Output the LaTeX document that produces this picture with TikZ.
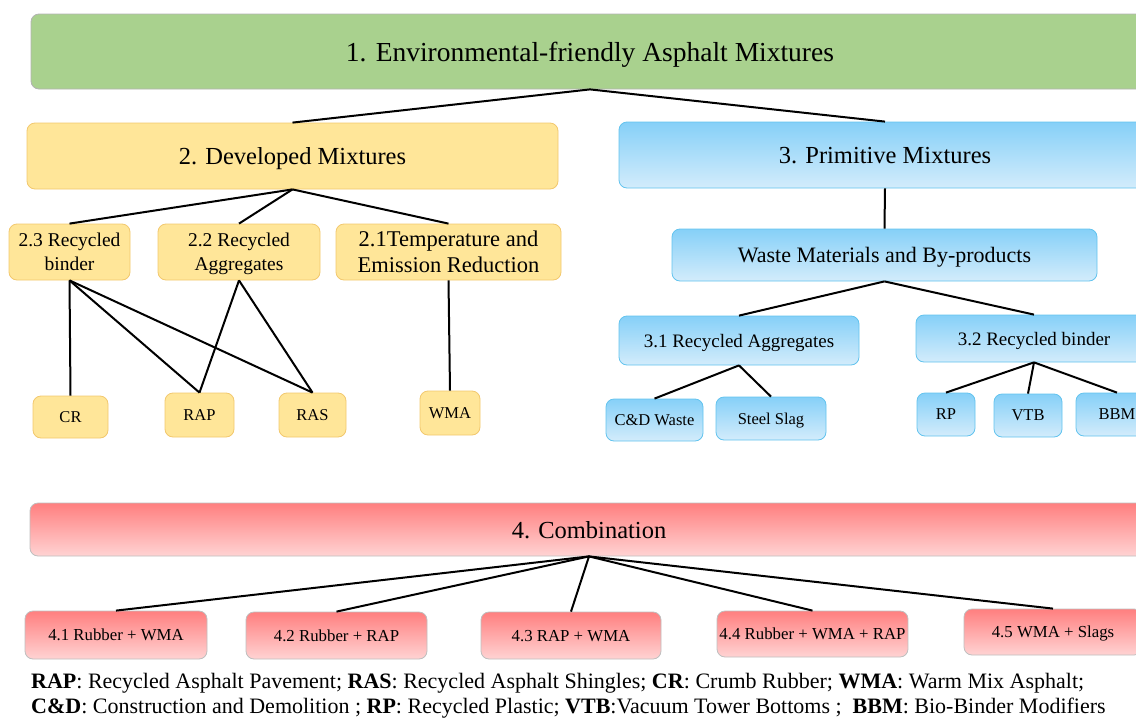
\documentclass[tikz,border=0pt]{standalone}
\usepackage{fontspec}
\setmainfont{Liberation Serif}
\usepackage{tikz}

\definecolor{envgreen}{HTML}{A9D18E}
\definecolor{devfill}{HTML}{FFE699}
\definecolor{devline}{HTML}{F2C86E}
\definecolor{primtop}{HTML}{86D0F8}
\definecolor{primbot}{HTML}{D3ECFB}
\definecolor{primline}{HTML}{62C3EE}
\definecolor{combtop}{HTML}{FF7F7F}
\definecolor{combbot}{HTML}{FFD3D3}

\tikzset{
  box/.style={rounded corners=8pt, line width=0.8pt, inner sep=0pt, align=center, text depth=0pt},
  envbox/.style={box, fill=envgreen, draw=black!30},
  devbox/.style={box, fill=devfill, draw=devline},
  primbox/.style={box, top color=primtop, bottom color=primbot, draw=primline},
  combbox/.style={box, top color=combtop, bottom color=combbot, draw=black!25},
  link/.style={line width=2pt},
}

\begin{document}
\begin{tikzpicture}[x=1pt,y=-1pt]
\useasboundingbox (0,0) rectangle (1136,718);

% top level
\node[envbox, minimum width=1118, minimum height=75, font=\fontsize{27.5}{32}\selectfont] (env) at (590,51.5) {1. Environmental-friendly Asphalt Mixtures};
\node[devbox, minimum width=531, minimum height=66, font=\fontsize{24.5}{29}\selectfont] (dev) at (292.5,156) {2. Developed Mixtures};
\node[primbox, minimum width=532, minimum height=66, font=\fontsize{24.5}{29}\selectfont] (prim) at (885,155) {3. Primitive Mixtures};
\draw[link] (env.south) -- (dev.north);
\draw[link] (env.south) -- (prim.north);

% developed mixtures
\node[devbox, minimum width=121, minimum height=56, font=\fontsize{19.5}{24}\selectfont] (rbind) at (69.5,252) {2.3 Recycled\\binder};
\node[devbox, minimum width=162, minimum height=56, font=\fontsize{19.5}{24}\selectfont] (ragg) at (239,252) {2.2 Recycled\\Aggregates};
\node[devbox, minimum width=225, minimum height=56, font=\fontsize{22.5}{26}\selectfont] (temp) at (448.5,252) {2.1Temperature and\\Emission Reduction};
\draw[link] (dev.south) -- (rbind.north);
\draw[link] (dev.south) -- (ragg.north);
\draw[link] (dev.south) -- (temp.north);

\node[devbox, minimum width=75, minimum height=42, font=\fontsize{16.5}{20}\selectfont] (cr) at (70.5,417) {CR};
\node[devbox, minimum width=69, minimum height=44, font=\fontsize{16.5}{20}\selectfont] (rap) at (199.5,415) {RAP};
\node[devbox, minimum width=67, minimum height=44, font=\fontsize{16.5}{20}\selectfont] (ras) at (312.5,415) {RAS};
\node[devbox, minimum width=60, minimum height=44, font=\fontsize{16.5}{20}\selectfont] (wma) at (450,413) {WMA};
\draw[link] (rbind.south) -- (cr.north);
\draw[link] (rbind.south) -- (rap.north);
\draw[link] (rbind.south) -- (ras.north);
\draw[link] (ragg.south) -- (rap.north);
\draw[link] (ragg.south) -- (ras.north);
\draw[link] (temp.south) -- (wma.north);

% primitive mixtures
\node[primbox, minimum width=425, minimum height=52, font=\fontsize{22}{26}\selectfont] (waste) at (884.5,255) {Waste Materials and By-products};
\draw[link] (prim.south) -- (waste.north);
\node[primbox, minimum width=240, minimum height=49, font=\fontsize{19}{23}\selectfont] (pagg) at (739,340.5) {3.1 Recycled Aggregates};
\node[primbox, minimum width=236, minimum height=47, font=\fontsize{19}{23}\selectfont] (pbind) at (1034,338.5) {3.2 Recycled binder};
\draw[link] (waste.south) -- (pagg.north);
\draw[link] (waste.south) -- (pbind.north);

\node[primbox, minimum width=97, minimum height=42, font=\fontsize{16.5}{20}\selectfont] (cdw) at (654.5,420) {C\&D Waste};
\node[primbox, minimum width=110, minimum height=43, font=\fontsize{16.5}{20}\selectfont] (slag) at (771,418.5) {Steel Slag};
\node[primbox, minimum width=58, minimum height=43, font=\fontsize{16.5}{20}\selectfont] (rp) at (946,414.5) {RP};
\node[primbox, minimum width=68, minimum height=43, font=\fontsize{16.5}{20}\selectfont] (vtb) at (1028,415.5) {VTB};
\node[primbox, minimum width=82, minimum height=43, font=\fontsize{16.5}{20}\selectfont] (bbm) at (1117,414.5) {BBM};
\draw[link] (pagg.south) -- (cdw.north);
\draw[link] (pagg.south) -- (slag.north);
\draw[link] (pbind.south) -- (rp.north);
\draw[link] (pbind.south) -- (vtb.north);
\draw[link] (pbind.south) -- (bbm.north);

% combination
\node[combbox, minimum width=1118, minimum height=53, font=\fontsize{24.5}{29}\selectfont] (comb) at (589,529.5) {4. Combination};
\node[combbox, minimum width=182, minimum height=48, font=\fontsize{16.8}{20}\selectfont] (rw) at (116,635) {4.1 Rubber + WMA};
\node[combbox, minimum width=181, minimum height=47, font=\fontsize{16.8}{20}\selectfont] (rr) at (336.5,635.5) {4.2 Rubber + RAP};
\node[combbox, minimum width=180, minimum height=47, font=\fontsize{16.8}{20}\selectfont] (raw) at (571,635.5) {4.3 RAP + WMA};
\node[combbox, minimum width=191, minimum height=46, font=\fontsize{16.8}{20}\selectfont] (rwr) at (812.5,634) {4.4 Rubber + WMA + RAP};
\node[combbox, minimum width=178, minimum height=46, font=\fontsize{16.8}{20}\selectfont] (ws) at (1053,632) {4.5 WMA + Slags};
\foreach \n in {rw,rr,raw,rwr,ws}
  \draw[link] (comb.south) -- (\n.north);

% legend
\node[anchor=base west, inner sep=0pt, font=\fontsize{22}{26}\selectfont] (leg1) at (31,688) {\textbf{RAP}: Recycled Asphalt Pavement; \textbf{RAS}: Recycled Asphalt Shingles; \textbf{CR}: Crumb Rubber; \textbf{WMA}: Warm Mix Asphalt;};
\node[anchor=base west, inner sep=0pt, font=\fontsize{22}{26}\selectfont] (leg2) at (31,713) {\textbf{C\&D}: Construction and Demolition ; \textbf{RP}: Recycled Plastic; \textbf{VTB}:Vacuum Tower Bottoms ;\ \ \textbf{BBM}: Bio-Binder Modifiers};
\end{tikzpicture}
\end{document}
